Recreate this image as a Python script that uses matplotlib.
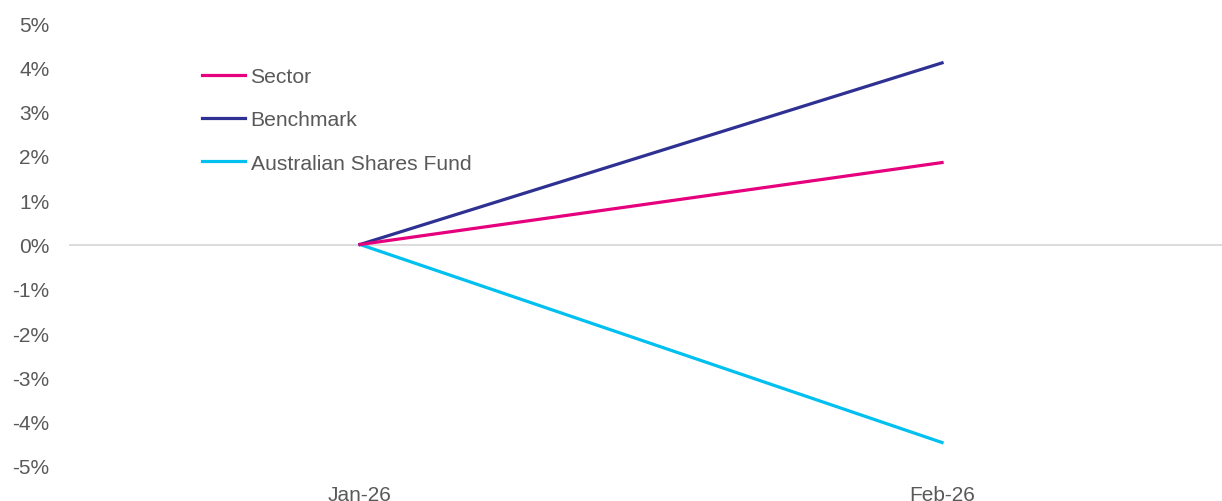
import matplotlib
matplotlib.use("Agg")
import matplotlib.pyplot as plt
from matplotlib.ticker import FuncFormatter

# ---------------------------------------------------------------------------
# Data
# ---------------------------------------------------------------------------
months = ["Jan-26", "Feb-26"]
sector = [0.0, 1.85]
benchmark = [0.0, 4.10]
fund = [0.0, -4.47]
y_ticks = [-5, -4, -3, -2, -1, 0, 1, 2, 3, 4, 5]

plt.rcParams["font.family"] = ["Liberation Sans", "DejaVu Sans"]
TEXT = "#595959"

W, H = 1222, 502
fig = plt.figure(figsize=(W / 100, H / 100), dpi=100)
ax = fig.add_axes([69 / W, 35 / H, (W - 69) / W, 443 / H])

x = list(range(len(months)))
ax.axhline(0, color="#d9d9d9", lw=1.3, zorder=1)
ax.plot(x, fund, color="#00C0F0", lw=2.3, label="Australian Shares Fund", zorder=2)
ax.plot(x, benchmark, color="#2E3192", lw=2.3, label="Benchmark", zorder=3)
ax.plot(x, sector, color="#E6007E", lw=2.3, label="Sector", zorder=4)

# two categories: first one sits about a quarter of the way in
ax.set_xlim(-0.5, 1.481)
ax.set_ylim(-5, 5)
ax.set_xticks(x)
ax.set_xticklabels(months)
ax.set_yticks(y_ticks)
ax.yaxis.set_major_formatter(FuncFormatter(lambda v, _: f"{v:.0f}%"))
ax.tick_params(length=0, labelsize=15, labelcolor=TEXT)
ax.tick_params(axis="y", pad=14)
ax.tick_params(axis="x", pad=14)
for s in ax.spines.values():
    s.set_visible(False)

handles, labels = ax.get_legend_handles_labels()
order = [2, 1, 0]
ax.legend([handles[i] for i in order], [labels[i] for i in order],
          loc="upper left", bbox_to_anchor=(202 / W, 1 - 68 / H),
          bbox_transform=fig.transFigure, frameon=False, fontsize=15.2,
          labelcolor=TEXT, handlelength=2.05, handletextpad=0.25,
          labelspacing=1.15, borderpad=0, borderaxespad=0)

fig.savefig("out.png", dpi=100)
